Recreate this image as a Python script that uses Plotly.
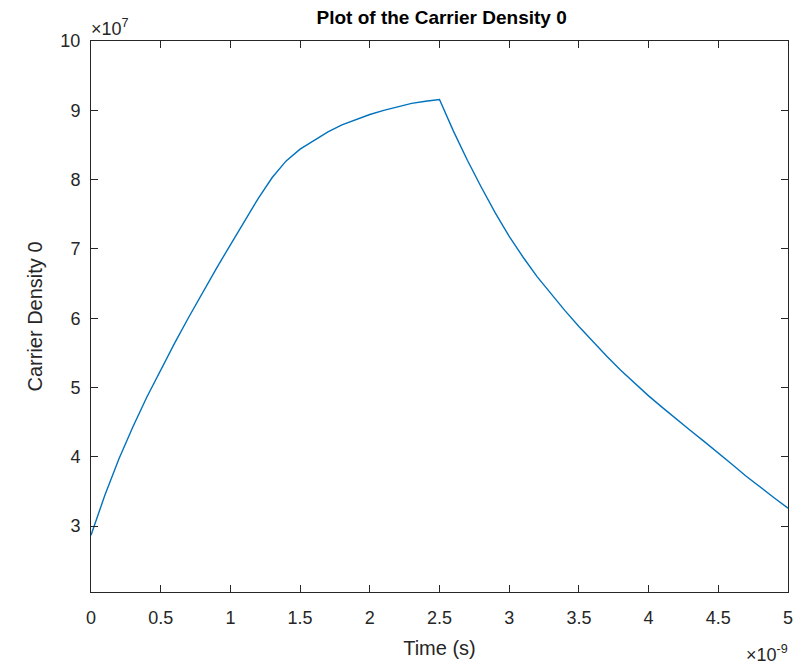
import plotly.graph_objects as go

# Data (time in ns, density in units of 1e7)
time_ns = [0.0, 0.1, 0.2, 0.3, 0.4, 0.5, 0.6, 0.7, 0.8, 0.9, 1.0, 1.1, 1.2, 1.3,
           1.4, 1.5, 1.6, 1.7, 1.8, 1.9, 2.0, 2.1, 2.2, 2.3, 2.4, 2.5,
           2.6, 2.7, 2.8, 2.9, 3.0, 3.1, 3.2, 3.3, 3.4, 3.5, 3.6, 3.7, 3.8, 3.9,
           4.0, 4.1, 4.2, 4.3, 4.4, 4.5, 4.6, 4.7, 4.8, 4.9, 5.0]
density_e7 = [2.87, 3.45, 3.97, 4.43, 4.86, 5.26, 5.64, 6.01, 6.37, 6.72, 7.06, 7.40, 7.73, 8.03,
              8.27, 8.44, 8.57, 8.69, 8.79, 8.87, 8.94, 9.00, 9.05, 9.10, 9.13, 9.155,
              8.70, 8.28, 7.89, 7.52, 7.18, 6.88, 6.60, 6.35, 6.11, 5.88, 5.66, 5.45, 5.25, 5.06,
              4.88, 4.71, 4.54, 4.38, 4.22, 4.06, 3.89, 3.72, 3.56, 3.41, 3.26]

x_tick_vals_ns = [0, 0.5, 1, 1.5, 2, 2.5, 3, 3.5, 4, 4.5, 5]
x_tick_text = ["0", "0.5", "1", "1.5", "2", "2.5", "3", "3.5", "4", "4.5", "5"]
y_tick_vals_e7 = [3, 4, 5, 6, 7, 8, 9, 10]
y_tick_text = ["3", "4", "5", "6", "7", "8", "9", "10"]

x_scale = 1e-9
y_scale = 1e7

x = [v * x_scale for v in time_ns]
y = [v * y_scale for v in density_e7]

ink = "#262626"
font_family = "Liberation Sans, Arial, Helvetica, sans-serif"

fig = go.Figure()
fig.add_trace(go.Scatter(x=x, y=y, mode="lines",
                         line=dict(color="#0072BD", width=1.4),
                         showlegend=False, hoverinfo="skip"))

axis_common = dict(
    showgrid=False, zeroline=False, showline=True, linecolor=ink, linewidth=1,
    mirror="ticks", ticks="inside", ticklen=7, tickwidth=1, tickcolor=ink,
    tickfont=dict(family=font_family, size=18, color=ink),
)

fig.update_layout(
    width=805, height=668,
    margin=dict(l=91, r=13, t=41, b=73),
    paper_bgcolor="white", plot_bgcolor="white",
    title=dict(text="<b>Plot of the Carrier Density 0</b>", x=0.5486, xanchor="center",
               y=1 - 17 / 668, yanchor="middle",
               font=dict(family=font_family, size=19, color="black")),
    xaxis=dict(
        range=[0, 5 * x_scale],
        tickvals=[v * x_scale for v in x_tick_vals_ns], ticktext=x_tick_text,
        title=dict(text="Time (s)", font=dict(family=font_family, size=20, color=ink), standoff=14),
        ticklabelstandoff=9,
        **axis_common,
    ),
    yaxis=dict(
        range=[2.05 * y_scale, 10 * y_scale],
        tickvals=[v * y_scale for v in y_tick_vals_e7], ticktext=y_tick_text,
        title=dict(text="Carrier Density 0", font=dict(family=font_family, size=20, color=ink), standoff=12),
        ticklabelstandoff=6,
        **axis_common,
    ),
    annotations=[
        dict(text="×10<sup>7</sup>", xref="paper", yref="paper", x=0, y=1,
             xanchor="left", yanchor="bottom", yshift=0, xshift=-2, showarrow=False,
             font=dict(family=font_family, size=18, color=ink)),
        dict(text="×10<sup>-9</sup>", xref="paper", yref="paper", x=1, y=0,
             xanchor="right", yanchor="top", yshift=-48, xshift=2, showarrow=False,
             font=dict(family=font_family, size=18, color=ink)),
    ],
)

fig.write_html("out.html")
